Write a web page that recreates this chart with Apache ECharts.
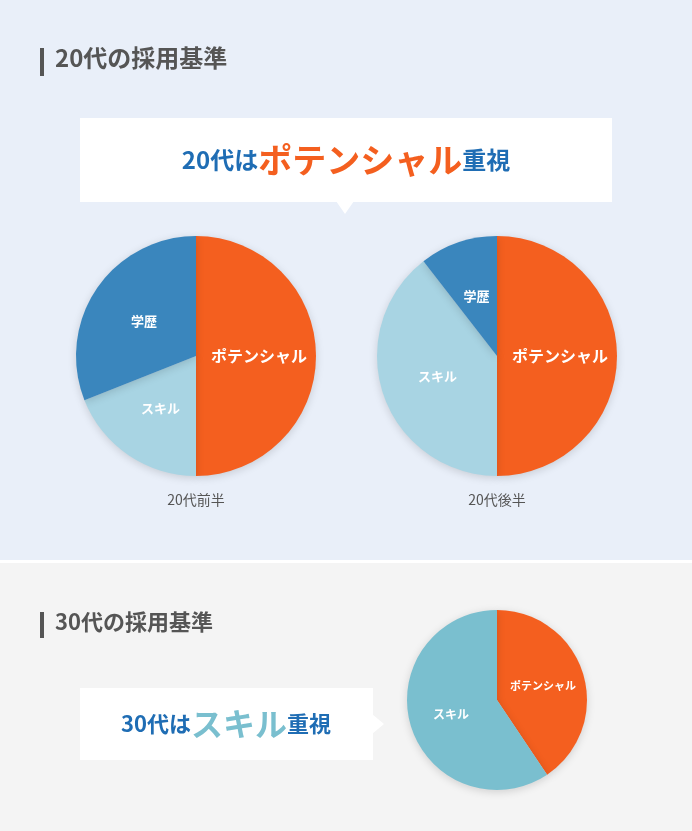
<!DOCTYPE html>
<html><head><meta charset="utf-8">
<script src="https://cdn.jsdelivr.net/npm/echarts@6/dist/echarts.min.js"></script>
<style>html,body{margin:0;padding:0}#c{width:692px;height:831px}</style>
</head><body><div id="c"></div>
<script>
const pie1Names = ['ポテンシャル','スキル','学歴'];
const pie1Values = [50, 19, 31];
const pie2Names = ['ポテンシャル','スキル','学歴'];
const pie2Values = [50, 39.5, 10.5];
const pie3Names = ['ポテンシャル','スキル'];
const pie3Values = [40.6, 59.4];
const captions = ['20代前半','20代後半'];
const ORANGE='#f45f1f', BLUE='#3a86bd', LIGHT='#a8d4e3', TEAL='#7abfcf';
const F = '"Noto Sans CJK JP","Noto Sans",sans-serif';
const chart = echarts.init(document.getElementById('c'));
function mk(names, vals, colors){return names.map((n,i)=>({name:n,value:vals[i],itemStyle:{color:colors[i]}}));}
function pieSeries(center, radius, data, fs){
  return {type:'pie', center, radius, startAngle:90, clockwise:true, data,
    silent:true, animation:false,
    label:{show:true, position:'inside', color:'#fff', fontWeight:'bold', fontSize:fs, fontFamily:F, formatter:'{b}'},
    labelLine:{show:false},
    itemStyle:{shadowBlur:8, shadowColor:'rgba(0,0,0,0.15)', shadowOffsetY:2}};
}
const s1 = pieSeries([196,356],120,mk(pie1Names,pie1Values,[ORANGE,LIGHT,BLUE]),13);
s1.data[0].label={fontSize:16};
const s2 = pieSeries([497,356],120,mk(pie2Names,pie2Values,[ORANGE,LIGHT,BLUE]),13);
s2.data[0].label={fontSize:16};
const s3 = pieSeries([497,700],90,mk(pie3Names,pie3Values,[ORANGE,TEAL]),12);
s3.data[0].label={fontSize:11};
chart.setOption({
  backgroundColor:'#fff',
  graphic:[
    {type:'rect',shape:{x:0,y:0,width:692,height:560},style:{fill:'#e9eff9'},z:-10},
    {type:'rect',shape:{x:0,y:563,width:692,height:268},style:{fill:'#f4f4f4'},z:-10},
    {type:'rect',shape:{x:40,y:48,width:4,height:28},style:{fill:'#555'}},
    {type:'text',left:55,top:46,style:{text:'20代の採用基準',fill:'#555',font:'bold 24px '+F}},
    {type:'rect',shape:{x:80,y:118,width:532,height:84},style:{fill:'#fff'}},
    {type:'polygon',shape:{points:[[336,201],[354,201],[345,214]]},style:{fill:'#fff'}},
    {type:'text',x:346,y:160,style:{text:'{a|20代は}{b|ポテンシャル}{a|重視}',align:'center',verticalAlign:'middle',
      rich:{a:{fill:'#1f6db4',font:'bold 24px '+F},b:{fill:'#f45f1f',font:'bold 34px '+F}}}},
    {type:'text',x:196,y:500,style:{text:captions[0],align:'center',verticalAlign:'middle',fill:'#555',font:'14px '+F}},
    {type:'text',x:497,y:500,style:{text:captions[1],align:'center',verticalAlign:'middle',fill:'#555',font:'14px '+F}},
    {type:'rect',shape:{x:40,y:612,width:4,height:26},style:{fill:'#555'}},
    {type:'text',left:55,top:611,style:{text:'30代の採用基準',fill:'#555',font:'bold 22px '+F}},
    {type:'rect',shape:{x:80,y:688,width:293,height:72},style:{fill:'#fff'}},
    {type:'polygon',shape:{points:[[372,714],[372,734],[384,724]]},style:{fill:'#fff'}},
    {type:'text',x:226,y:724,style:{text:'{a|30代は}{b|スキル}{a|重視}',align:'center',verticalAlign:'middle',
      rich:{a:{fill:'#1f6db4',font:'bold 22px '+F},b:{fill:'#7abfcf',font:'bold 32px '+F}}}}
  ],
  series:[s1,s2,s3]
});
</script></body></html>
